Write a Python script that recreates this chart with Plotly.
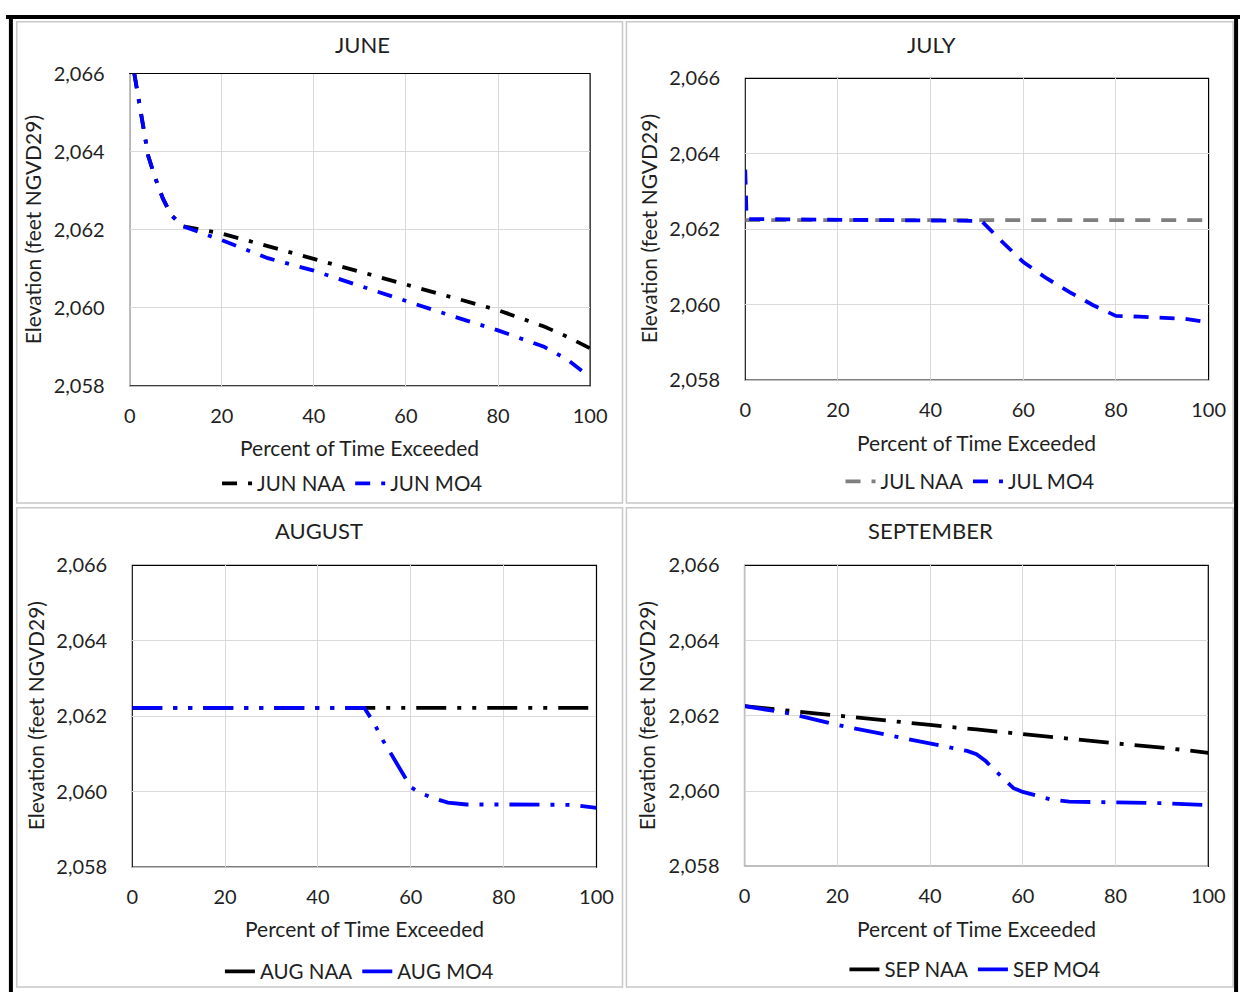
import plotly.graph_objects as go

# ---------------- data (percent of time exceeded vs elevation) ----------------
jun_pct = [1, 2, 3, 4, 5.5, 7.2, 9, 11.5, 20, 30, 40, 50, 60, 70, 80, 90, 95, 100]
jun_naa = [2066.0, 2065.35, 2064.6, 2063.9, 2063.34, 2062.8, 2062.38, 2062.09, 2061.9,
           2061.58, 2061.25, 2060.93, 2060.61, 2060.28, 2059.94, 2059.52, 2059.26, 2058.96]
jun_mo4 = [2066.0, 2065.35, 2064.6, 2063.9, 2063.34, 2062.8, 2062.38, 2062.09, 2061.73,
           2061.27, 2060.95, 2060.56, 2060.17, 2059.79, 2059.42, 2059.0, 2058.68, 2058.22]

jul_pct_naa = [0, 20, 40, 60, 80, 100]
jul_naa = [2062.24, 2062.24, 2062.24, 2062.24, 2062.24, 2062.24]
jul_pct_mo4 = [0, 0.3, 10, 20, 30, 40, 50, 51, 55, 60, 65, 70, 75, 80, 85, 90, 95, 100]
jul_mo4 = [2063.58, 2062.27, 2062.26, 2062.25, 2062.25, 2062.24, 2062.24, 2062.22, 2061.72,
           2061.13, 2060.7, 2060.33, 2059.99, 2059.7, 2059.68, 2059.66, 2059.62, 2059.53]

aug_pct_naa = [0, 20, 40, 60, 80, 100]
aug_naa = [2062.22, 2062.22, 2062.22, 2062.22, 2062.22, 2062.22]
aug_pct_mo4 = [0, 10, 20, 30, 40, 50, 52, 54, 56, 58, 60, 62, 65, 68, 72, 80, 90, 95, 100]
aug_mo4 = [2062.22, 2062.22, 2062.22, 2062.22, 2062.22, 2062.22, 2061.84, 2061.36, 2060.95,
           2060.52, 2060.12, 2059.97, 2059.82, 2059.71, 2059.66, 2059.66, 2059.66, 2059.65, 2059.57]

sep_pct_naa = [0, 10, 20, 30, 40, 50, 60, 70, 80, 90, 100]
sep_naa = [2062.26, 2062.13, 2062.02, 2061.88, 2061.76, 2061.64, 2061.51, 2061.38,
           2061.27, 2061.16, 2061.02]
sep_pct_mo4 = [0, 5, 10, 20, 30, 40, 45, 48, 50, 52, 54, 56, 58, 60, 62, 66, 70, 80, 90, 100]
sep_mo4 = [2062.26, 2062.17, 2062.06, 2061.76, 2061.51, 2061.25, 2061.12, 2061.07, 2060.98,
           2060.8, 2060.55, 2060.3, 2060.08, 2059.98, 2059.91, 2059.78, 2059.72, 2059.70,
           2059.68, 2059.63]

panel_titles = ["JUNE", "JULY", "AUGUST", "SEPTEMBER"]
x_ticks = [0, 20, 40, 60, 80, 100]
y_ticks = [2058, 2060, 2062, 2064, 2066]
x_title = "Percent of Time Exceeded"
y_title = "Elevation (feet NGVD29)"

# ---------------- layout geometry ----------------
W, H = 1257, 1003
FONT = "Lato"
TXT = "#1F1F1F"
LW = 3.8
TICK_SIZE = 20
AXT_SIZE = 21
LEG_SIZE = 20.5
TITLE_SIZE = 22

def px(x):
    return x / W

def py(y):
    return 1 - y / H

# plot areas in page pixels: (left, right, top, bottom)
areas = [(126, 595, 62, 382), (753, 1225, 67, 376), (128.6, 601.5, 566, 875), (752.3, 1224.7, 566, 874.3)]

dash_jun = "15px,11px,4px,11px"
dash_jul = "15px,11px"
dash_aug = "30px,11px,4px,11px,4px,11px"
dash_sep = "30px,11px,4px,11px"

series = [
    (1, "JUN NAA", jun_pct, jun_naa, "#000000", dash_jun, "legend"),
    (1, "JUN MO4", jun_pct, jun_mo4, "#0000FF", dash_jun, "legend"),
    (2, "JUL NAA", jul_pct_naa, jul_naa, "#7F7F7F", dash_jul, "legend2"),
    (2, "JUL MO4", jul_pct_mo4, jul_mo4, "#0000FF", dash_jul, "legend2"),
    (3, "AUG NAA", aug_pct_naa, aug_naa, "#000000", dash_aug, "legend3"),
    (3, "AUG MO4", aug_pct_mo4, aug_mo4, "#0000FF", dash_aug, "legend3"),
    (4, "SEP NAA", sep_pct_naa, sep_naa, "#000000", dash_sep, "legend4"),
    (4, "SEP MO4", sep_pct_mo4, sep_mo4, "#0000FF", dash_sep, "legend4"),
]

fig = go.Figure()
for k, name, xs, ys, color, dash, leg in series:
    sfx = "" if k == 1 else str(k)
    fig.add_trace(go.Scatter(
        x=xs, y=ys, name=name, mode="lines",
        line=dict(color=color, width=LW, dash=dash),
        xaxis="x" + sfx, yaxis="y" + sfx, legend=leg,
    ))

layout = dict(
    width=W, height=H,
    margin=dict(l=0, r=0, t=0, b=0),
    paper_bgcolor="white", plot_bgcolor="white",
    font=dict(family=FONT, size=TICK_SIZE, color=TXT),
    shapes=[], annotations=[],
)

legend_pos = [(353, 482), (982, 480), (360, 982), (987, 980)]
title_pos = [(363, 32), (943, 32), (319, 530), (942, 530)]
xtitle_y = [445, 440, 938, 938]

for i, (l, r, t, b) in enumerate(areas):
    k = i + 1
    sfx = "" if k == 1 else str(k)
    layout["xaxis" + sfx] = dict(
        domain=[px(l), px(r)], anchor="y" + sfx, range=[0, 100],
        tickvals=x_ticks, showgrid=True, gridcolor="#D9D9D9", gridwidth=1,
        showline=True, linecolor="#BFBFBF", linewidth=1, zeroline=False,
        ticks="", ticklabelstandoff=12, tickfont=dict(family=FONT, size=TICK_SIZE, color=TXT),
    )
    layout["yaxis" + sfx] = dict(
        domain=[py(b), py(t)], anchor="x" + sfx, range=[2058, 2066],
        tickvals=y_ticks, tickformat=",d", showgrid=True, gridcolor="#D9D9D9", gridwidth=1,
        showline=True, linecolor="#BFBFBF", linewidth=1, zeroline=False,
        ticks="", ticklabelstandoff=20, tickfont=dict(family=FONT, size=TICK_SIZE, color=TXT),
    )
    # black plot-area frame
    layout["shapes"].append(dict(
        type="rect", xref="x" + sfx + " domain", yref="y" + sfx + " domain",
        x0=0, x1=1, y0=0, y1=1, line=dict(color="#000000", width=1.2), layer="below",
    ))
    leg_name = "legend" if k == 1 else "legend" + str(k)
    lx, ly = legend_pos[i]
    layout[leg_name] = dict(
        orientation="h", x=px(lx), y=py(ly), xanchor="center", yanchor="middle",
        bgcolor="rgba(0,0,0,0)", font=dict(family=FONT, size=LEG_SIZE, color=TXT),
        itemwidth=30, tracegroupgap=0,
    )
    tx, ty = title_pos[i]
    layout["annotations"].append(dict(
        text=panel_titles[i], x=px(tx), y=py(ty), xref="paper", yref="paper",
        showarrow=False, xanchor="center", yanchor="middle",
        font=dict(family=FONT, size=TITLE_SIZE, color=TXT),
    ))
    layout["annotations"].append(dict(
        text=x_title, x=px((l + r) / 2), y=py(xtitle_y[i]), xref="paper", yref="paper",
        showarrow=False, xanchor="center", yanchor="middle",
        font=dict(family=FONT, size=AXT_SIZE, color=TXT),
    ))
    layout["annotations"].append(dict(
        text=y_title, x=px(l - 99), y=py((t + b) / 2), xref="paper", yref="paper",
        showarrow=False, xanchor="center", yanchor="middle", textangle=-90,
        font=dict(family=FONT, size=AXT_SIZE, color=TXT),
    ))

# panel (chart area) borders
for (x0, x1, y0, y1) in [(11, 628, 9, 502), (632, 1250, 9, 502), (11, 628, 507, 998), (632, 1250, 507, 998)]:
    layout["shapes"].append(dict(
        type="rect", xref="paper", yref="paper", x0=px(x0), x1=px(x1), y0=py(y1), y1=py(y0),
        line=dict(color="#C8C8C8", width=1.5), layer="below",
    ))
# outer black frame (left, top, right)
for (x0, y0, x1, y1) in [(5, 2, 5, 1003), (0, 4, 1257, 4), (1253, 2, 1253, 1003)]:
    layout["shapes"].append(dict(
        type="line", xref="paper", yref="paper", x0=px(x0), x1=px(x1), y0=py(y0), y1=py(y1),
        line=dict(color="#000000", width=4), layer="above",
    ))

fig.update_layout(**layout)
fig.write_html(
    "out.html",
    config={"displayModeBar": False},
    post_script="document.body.style.margin='0';document.body.style.overflow='hidden';",
)
